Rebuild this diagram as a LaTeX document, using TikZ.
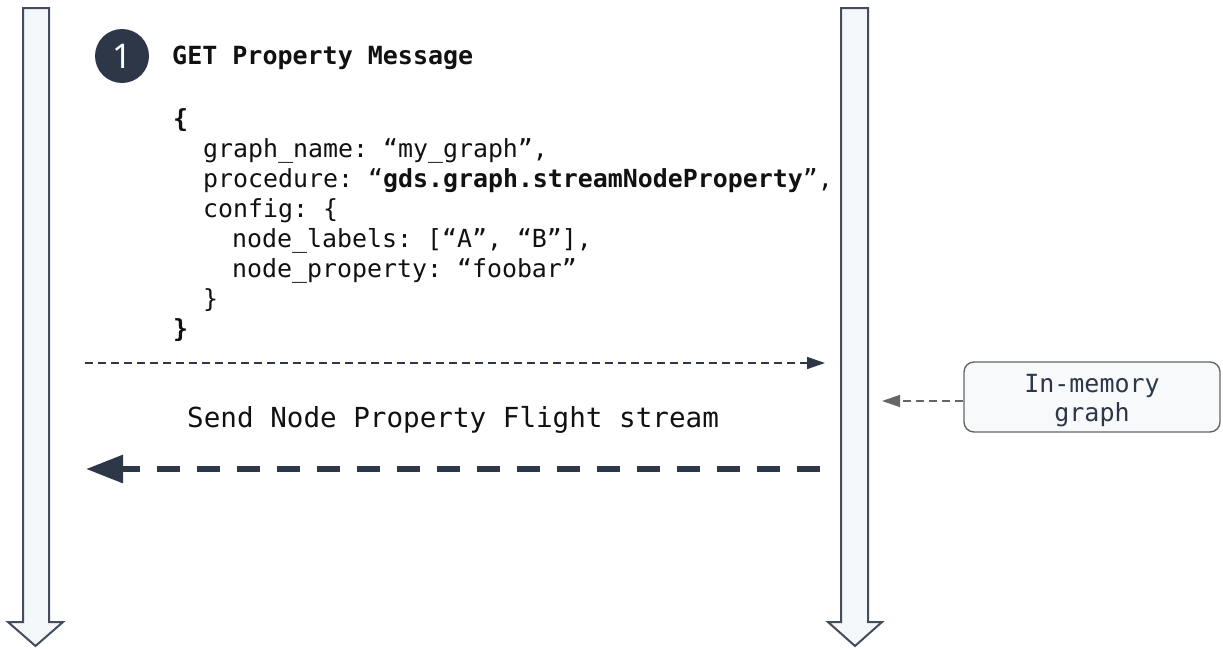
\documentclass[tikz,border=0pt]{standalone}
\usepackage{fontspec}
\setmainfont{Noto Sans}
\setmonofont{DejaVu Sans Mono}
\usetikzlibrary{arrows.meta}

\definecolor{navy}{HTML}{2D3748}
\definecolor{barline}{HTML}{434D5E}
\definecolor{barfill}{HTML}{F5F8FB}
\definecolor{boxfill}{HTML}{F7F9FB}
\definecolor{codeink}{HTML}{111111}
\definecolor{hint}{HTML}{666666}

\tikzset{
  lifeline/.style={draw=barline, line width=2pt, fill=barfill, line join=miter},
  codeline/.style={anchor=base west, inner sep=0pt, text=codeink,
    font=\ttfamily\fontsize{24.9}{30}\selectfont},
  stepnum/.style={circle, fill=navy, minimum size=54pt, inner sep=0pt,
    text=white, font=\fontsize{34}{34}\selectfont},
  msgtitle/.style={anchor=base west, inner sep=0pt, text=codeink,
    font=\ttfamily\bfseries\fontsize{25}{30}\selectfont},
  reqarrow/.style={draw=navy, line width=1.4pt, dash pattern=on 8pt off 5pt,
    -{Triangle[length=18pt,width=12pt]}},
  streamarrow/.style={draw=navy, line width=6pt, dash pattern=on 23pt off 17pt,
    -{Triangle[length=37pt,width=27pt]}},
  hintarrow/.style={draw=hint, line width=1.4pt, dash pattern=on 8pt off 5pt,
    -{Triangle[length=18pt,width=12pt]}},
  storebox/.style={draw=hint, line width=1.4pt, fill=boxfill, rounded corners=10pt,
    minimum width=256pt, minimum height=70pt},
  storetext/.style={align=center, text=navy, inner sep=0pt,
    font=\ttfamily\fontsize{25}{29.5}\selectfont},
}

\begin{document}
\begin{tikzpicture}[x=1pt, y=-1pt]
  \useasboundingbox (0,0) rectangle (1223,648);

  % client and server lifelines
  \draw[lifeline] (23,8) -- (49,8) -- (49,622) -- (63,622) -- (35.5,646)
     -- (8,622) -- (23,622) -- cycle;
  \draw[lifeline] (841,8) -- (868,8) -- (868,622) -- (882,622) -- (855,646)
     -- (828,622) -- (841,622) -- cycle;

  % step marker and message title
  \node[stepnum] (step1) at (122,56) {1};
  \node[msgtitle] (title) at (172,64) {GET Property Message};

  % message body
  \node[codeline] (c0) at (173,127) {\textbf{\{}};
  \node[codeline] (c1) at (203,157) {graph\_name: “my\_graph”,};
  \node[codeline] (c2) at (203,187) {procedure: “\textbf{gds.graph.streamNodeProperty}”,};
  \node[codeline] (c3) at (203,217) {config: \{};
  \node[codeline] (c4) at (232,247) {node\_labels: [“A”, “B”],};
  \node[codeline] (c5) at (232,277) {node\_property: “foobar”};
  \node[codeline] (c6) at (203,307) {\}};
  \node[codeline] (c7) at (173,337) {\textbf{\}}};

  % request from client to server
  \coordinate (reqFrom) at (85,363);
  \coordinate (reqTo) at (825,363);
  \draw[reqarrow] (reqFrom) -- (reqTo);

  % graph store feeding the server
  \node[storebox] (mem) at (1092,397) {};
  \node[storetext] (memlabel) at (1092,400.5) {In-memory\\graph};
  \coordinate (memTip) at (882,401);
  \draw[hintarrow] (mem.west |- memTip) -- (memTip);

  % stream back to the client
  \node[anchor=base west, inner sep=0pt, text=codeink,
        font=\ttfamily\fontsize{27.6}{30}\selectfont] (send) at (187,427)
        {Send Node Property Flight stream};
  \coordinate (streamFrom) at (820,469);
  \coordinate (streamTo) at (86,469);
  \draw[streamarrow] (streamFrom) -- (streamTo);
\end{tikzpicture}
\end{document}
